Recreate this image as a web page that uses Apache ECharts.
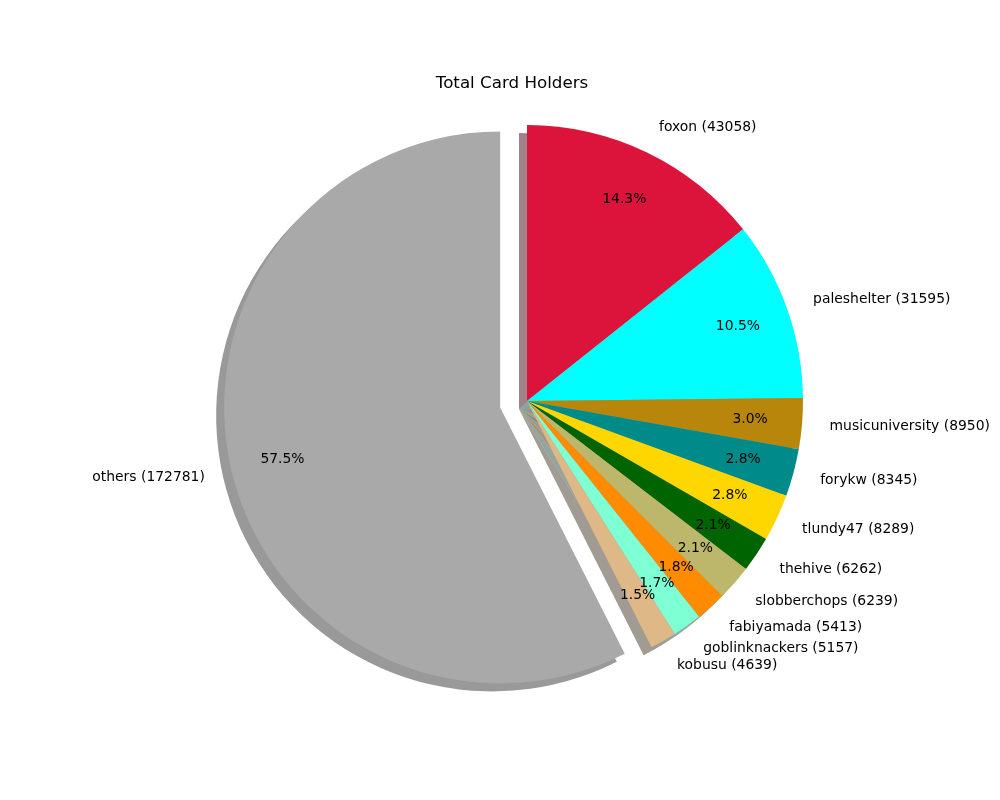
<!DOCTYPE html>
<html>
<head>
<meta charset="utf-8">
<script src="https://cdn.jsdelivr.net/npm/echarts@6/dist/echarts.min.js"></script>
<style>html,body{margin:0;padding:0;background:#fff}#c{width:1000px;height:800px}</style>
</head>
<body>
<div id="c"></div>
<script>
const names = ['foxon','paleshelter','musicuniversity','forykw','tlundy47','thehive','slobberchops','fabiyamada','goblinknackers','kobusu','others'];
const values = [43058,31595,8950,8345,8289,6262,6239,5413,5157,4639,172781];
const colors = ['#DC143C','#00FFFF','#B8860B','#008B8B','#FFD700','#006400','#BDB76B','#FF8C00','#7FFFD4','#DEB887','#A9A9A9'];
const exploded = [false,false,false,false,false,false,false,false,false,false,true];
const title = 'Total Card Holders';

const FONT = 'DejaVu Sans';
const cx = 527, cy = 401, R = 276;
const total = values.reduce((a, b) => a + b, 0);

function shadowColor(hex) {
  const r = parseInt(hex.slice(1, 3), 16), g = parseInt(hex.slice(3, 5), 16), b = parseInt(hex.slice(5, 7), 16);
  return `rgba(${Math.round(r * 0.3)},${Math.round(g * 0.3)},${Math.round(b * 0.3)},0.5)`;
}

function makeData(kind, filter) {
  return names.map((n, i) => {
    const d = { name: n, value: values[i], selected: exploded[i] };
    if (kind === 'shadow') d.itemStyle = { color: shadowColor(colors[i]) };
    else if (kind === 'main') d.itemStyle = { color: colors[i] };
    else {
      d.itemStyle = { color: 'rgba(0,0,0,0)' };
      if (filter && !filter(i)) d.label = { show: false };
    }
    return d;
  });
}

const common = {
  type: 'pie',
  startAngle: 90,
  clockwise: true,
  selectedMode: 'single',
  selectedOffset: R * 0.1,
  avoidLabelOverlap: false,
  animation: false,
  emphasis: { disabled: true, scale: false },
  minAngle: 0,
  percentPrecision: 4,
  labelLayout: { hideOverlap: false }
};

function pctSeries(name, filter) {
  return Object.assign({}, common, {
    name: name, z: 3,
    center: [cx, cy], radius: [R * 0.6, R],
    itemStyle: { borderWidth: 0 },
    label: {
      show: true, position: 'inside',
      fontFamily: FONT, fontSize: 13.9, color: '#000',
      formatter: p => (p.value / total * 100).toFixed(1) + '%'
    },
    labelLine: { show: false },
    data: makeData('pct', filter)
  });
}

const chart = echarts.init(document.getElementById('c'), null, { renderer: 'canvas' });
chart.setOption({
  backgroundColor: '#ffffff',
  animation: false,
  graphic: [{
    type: 'text', x: 512, y: 83.5,
    style: { text: title, font: `16.7px "${FONT}"`, fill: '#000', align: 'center', verticalAlign: 'middle' }
  }],
  series: [
    Object.assign({}, common, {
      name: 'shadow', z: 1,
      center: [cx - 8, cy + 8], radius: [0, R],
      itemStyle: { borderWidth: 0 },
      label: { show: false }, labelLine: { show: false },
      data: makeData('shadow')
    }),
    Object.assign({}, common, {
      name: 'main', z: 2,
      center: [cx, cy], radius: [0, R],
      itemStyle: { borderWidth: 0 },
      label: {
        show: true, position: 'outside', distanceToLabelLine: 0,
        fontFamily: FONT, fontSize: 13.9, color: '#000',
        formatter: p => `${p.name} (${p.value})`
      },
      labelLine: { show: false, length: R * 0.1, length2: 0 },
      data: makeData('main')
    }),
    pctSeries('pctA', i => i % 2 === 0),
    pctSeries('pctB', i => i % 2 === 1)
  ]
});
</script>
</body>
</html>
